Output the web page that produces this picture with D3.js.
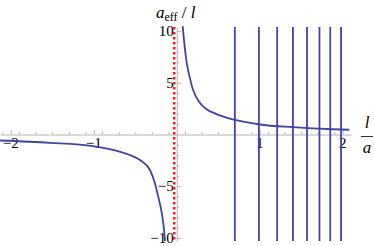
<!DOCTYPE html>
<html lang="en">
<head>
    <meta charset="UTF-8">
    <title>a_eff / l versus l / a</title>
    <script src="https://d3js.org/d3.v7.min.js"></script>
    <style>
        body { margin: 0; background: #fff; }
        svg { display: block; }
        .axis path, .axis line { stroke: #b5b5b5; }
    </style>
</head>
<body>
    <div id="chart"></div>

    <script>
        // values
        const rightBranchX = [0.071, 0.090, 0.119, 0.151, 0.192, 0.271, 0.36, 0.472, 0.678, 1.0, 1.40, 1.88, 2.08];
        const rightBranchY = [10.48, 8.94, 7.0, 5.72, 4.43, 3.14, 2.45, 2.0, 1.46, 0.97, 0.71, 0.51, 0.46];
        const leftBranchX = [-2.13, -1.53, -1.01, -0.70, -0.566, -0.443, -0.323, -0.263, -0.223, -0.180, -0.153, -0.142];
        const leftBranchY = [-0.58, -0.80, -1.13, -1.62, -1.98, -2.46, -3.43, -4.71, -6.01, -7.61, -9.23, -10.3];
        const verticalLines = [0.70, 0.99, 1.21, 1.40, 1.57, 1.72, 1.85, 1.98];
        const asymptote = -0.03;
        const xMajorTicks = [-2, -1, 1, 2];
        const yMajorTicks = [-10, -5, 5, 10];

        const width = 374, height = 246;
        const svg = d3.select("#chart").append("svg")
            .attr("width", width)
            .attr("height", height);

        const x = d3.scaleLinear().domain([-2.13, 2.1]).range([0, 351]);
        const y = d3.scaleLinear().domain([-10.3, 10.4]).range([241, 27]);

        // minor ticks every 0.2 on x, every 1 on y
        const xMinor = d3.range(-21, 22, 2).map(d => d / 10).filter(d => d > -2.13 && d < 2.1 && !xMajorTicks.includes(d) && d !== 0);
        const yMinor = d3.range(-10, 11).filter(d => !yMajorTicks.includes(d) && d !== 0);

        const serif = "Liberation Serif";
        const fmt = d3.format("d");

        // x axis
        svg.append("g").attr("class", "axis")
            .attr("transform", `translate(0,${y(0)})`)
            .call(d3.axisBottom(x).tickValues(xMinor).tickSizeInner(-2.5).tickSizeOuter(0).tickFormat(""));
        svg.append("g").attr("class", "axis")
            .attr("transform", `translate(0,${y(0)})`)
            .call(d3.axisBottom(x).tickValues(xMajorTicks).tickSizeInner(-4.5).tickSizeOuter(0).tickFormat(""))
            .call(g => g.select(".domain").remove());

        // y axis
        svg.append("g").attr("class", "axis")
            .attr("transform", `translate(${x(0)},0)`)
            .call(d3.axisLeft(y).tickValues(yMinor).tickSizeInner(-2.5).tickSizeOuter(0).tickFormat(""));
        svg.append("g").attr("class", "axis")
            .attr("transform", `translate(${x(0)},0)`)
            .call(d3.axisLeft(y).tickValues(yMajorTicks).tickSizeInner(-4.5).tickSizeOuter(0).tickFormat(""))
            .call(g => g.select(".domain").remove());

        // tick labels
        svg.selectAll(".xlab")
            .data(xMajorTicks)
            .enter()
            .append("text")
            .attr("class", "xlab")
            .attr("x", d => x(d))
            .attr("y", y(0) + 13)
            .attr("text-anchor", "middle")
            .attr("font-family", serif)
            .attr("font-size", 15)
            .attr("fill", "#000")
            .text(d => fmt(d));

        svg.selectAll(".ylab")
            .data(yMajorTicks)
            .enter()
            .append("text")
            .attr("class", "ylab")
            .attr("x", x(0) - 3)
            .attr("y", d => y(d) + 5)
            .attr("text-anchor", "end")
            .attr("font-family", serif)
            .attr("font-size", 15)
            .attr("fill", "#000")
            .text(d => fmt(d));

        // red dotted asymptote
        svg.append("line")
            .attr("x1", x(asymptote)).attr("x2", x(asymptote))
            .attr("y1", y(10.4)).attr("y2", y(-10.3))
            .attr("stroke", "#ff1a1a")
            .attr("stroke-width", 2.5)
            .attr("stroke-dasharray", "2.5,2.5");

        const lineColor = "#4343a0";

        // vertical lines
        svg.selectAll(".vline")
            .data(verticalLines)
            .enter()
            .append("line")
            .attr("class", "vline")
            .attr("x1", d => x(d)).attr("x2", d => x(d))
            .attr("y1", y(10.4)).attr("y2", y(-10.3))
            .attr("stroke", lineColor)
            .attr("stroke-width", 1.8);

        // curve branches
        const line = d3.line()
            .x(d => x(d[0]))
            .y(d => y(d[1]))
            .curve(d3.curveMonotoneX);

        [[rightBranchX, rightBranchY], [leftBranchX, leftBranchY]].forEach(([xs, ys]) => {
            svg.append("path")
                .datum(xs.map((v, i) => [v, ys[i]]))
                .attr("d", line)
                .attr("fill", "none")
                .attr("stroke", lineColor)
                .attr("stroke-width", 1.8);
        });

        // axis labels
        const yLabel = svg.append("text")
            .attr("x", 156).attr("y", 18)
            .attr("font-family", serif)
            .attr("font-size", 17);
        yLabel.append("tspan").attr("font-style", "italic").text("a");
        yLabel.append("tspan").attr("font-size", 12).attr("dy", 3).text("eff");
        yLabel.append("tspan").attr("dy", -3).text(" / ");
        yLabel.append("tspan").attr("font-style", "italic").text("l");

        svg.append("text")
            .attr("x", 367).attr("y", 128)
            .attr("text-anchor", "middle")
            .attr("font-family", serif)
            .attr("font-style", "italic")
            .attr("font-size", 17)
            .text("l");
        svg.append("line")
            .attr("x1", 361).attr("x2", 373)
            .attr("y1", 136.5).attr("y2", 136.5)
            .attr("stroke", "#000")
            .attr("stroke-width", 0.8);
        svg.append("text")
            .attr("x", 367).attr("y", 153)
            .attr("text-anchor", "middle")
            .attr("font-family", serif)
            .attr("font-style", "italic")
            .attr("font-size", 17)
            .text("a");
    </script>
</body>
</html>
